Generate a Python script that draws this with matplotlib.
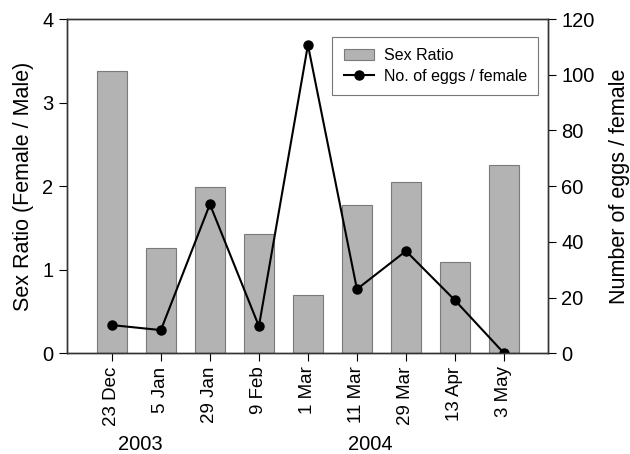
import matplotlib
matplotlib.use("Agg")
import matplotlib.pyplot as plt
import numpy as np

plt.rcParams['font.family'] = ['Liberation Sans', 'DejaVu Sans']

# data
dates = ['23 Dec', '5 Jan', '29 Jan', '9 Feb', '1 Mar', '11 Mar', '29 Mar', '13 Apr', '3 May']
sex_ratio = [3.38, 1.26, 1.99, 1.43, 0.70, 1.78, 2.05, 1.09, 2.25]
eggs_per_female = [10.1, 8.3, 53.5, 9.7, 110.7, 23.0, 36.7, 19.0, 0.0]

x = np.arange(len(dates))

fig = plt.figure(figsize=(6.3, 4.54), dpi=100)
ax = fig.add_axes([0.106, 0.222, 0.764, 0.736])

bars = ax.bar(x, sex_ratio, width=0.61, color='#b3b3b3', edgecolor='#7a7a7a',
              linewidth=0.8, label='Sex Ratio')
ax.set_xlim(-0.92, 8.9)
ax.set_ylim(0, 4)
ax.set_yticks([0, 1, 2, 3, 4])
ax.set_xticks(x)
ax.set_xticklabels(dates, rotation=90, fontsize=13.5)
ax.tick_params(axis='y', labelsize=14.5, direction='out', length=6)
ax.tick_params(axis='x', direction='out', length=6)
ax.set_ylabel('Sex Ratio (Female / Male)', fontsize=15.5, labelpad=6)

ax2 = ax.twinx()
line, = ax2.plot(x, eggs_per_female, color='black', marker='o', markersize=6.5,
                 linewidth=1.5, label='No. of eggs / female')
ax2.set_ylim(0, 120)
ax2.set_yticks([0, 20, 40, 60, 80, 100, 120])
ax2.tick_params(axis='y', labelsize=14.5, direction='out', length=6)
ax2.set_ylabel('Number of eggs / female', fontsize=15.5, labelpad=10)

for a in (ax, ax2):
    for s in a.spines.values():
        s.set_color('#333333')
        s.set_linewidth(1.0)

leg = ax2.legend([bars, line], ['Sex Ratio', 'No. of eggs / female'],
                 loc='upper right', bbox_to_anchor=(0.979, 0.946), fontsize=11.5,
                 frameon=True, fancybox=False, edgecolor='#555555',
                 borderpad=0.7, handlelength=1.9, handletextpad=0.6,
                 labelspacing=0.35, borderaxespad=0)
leg.get_frame().set_linewidth(0.8)

fig.text(140 / 630, 1 - 445 / 454, '2003', fontsize=14.5, ha='center', va='center')
fig.text(370 / 630, 1 - 445 / 454, '2004', fontsize=14.5, ha='center', va='center')

fig.savefig('out.png', dpi=100)
